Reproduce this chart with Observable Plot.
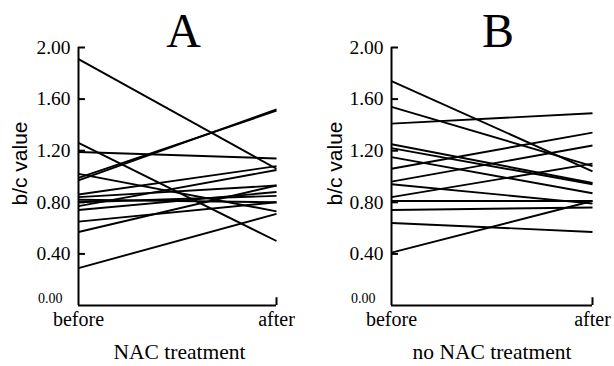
<!DOCTYPE html>
<html><head><meta charset="utf-8">
<script src="https://cdn.jsdelivr.net/npm/d3@7"></script>
<script src="https://cdn.jsdelivr.net/npm/@observablehq/plot@0.6"></script>
<style>
body{margin:0;background:#fff;}
#wrap{position:relative;width:614px;height:366px;overflow:hidden;}
#wrap svg{position:absolute;top:0;}
</style>
</head><body><div id="wrap"></div>
<script>
// Panel A: NAC treatment
const beforeA = [1.91, 1.26, 1.19, 1.02, 0.99, 0.97, 0.86, 0.84, 0.82, 0.80, 0.77, 0.74, 0.65, 0.57, 0.29];
const afterA  = [1.06, 0.50, 1.14, 0.73, 1.51, 1.52, 1.08, 0.93, 0.80, 0.85, 1.05, 0.88, 0.80, 0.93, 0.71];
// Panel B: no NAC treatment
const beforeB = [1.74, 1.54, 1.41, 1.25, 1.22, 1.15, 1.06, 0.96, 0.94, 0.84, 0.81, 0.74, 0.64, 0.41];
const afterB  = [1.04, 1.08, 1.49, 0.95, 0.94, 0.87, 1.34, 1.24, 0.79, 1.10, 0.81, 0.76, 0.57, 0.81];
const yTicks = [0.40, 0.80, 1.20, 1.60, 2.00];
const xTickLabels = ["before", "after"];
const panelTitles = ["A", "B"];
const xLabels = ["NAC treatment", "no NAC treatment"];
const yLabel = "b/c value";

const serif = "Liberation Serif";
const sans = "Liberation Sans";

function panel(before, after, title, xlab, opts) {
  const data = before.map((b, i) => ({before: b, after: after[i]}));
  return Plot.plot({
    width: 307, height: 366,
    marginLeft: opts.ml, marginRight: opts.mr, marginTop: 47, marginBottom: 61,
    x: {domain: [0, 1], axis: null},
    y: {domain: [0, 2], axis: null},
    style: {background: "white", color: "black"},
    marks: [
      Plot.link(data, {x1: () => 0, y1: "before", x2: () => 1, y2: "after", stroke: "black", strokeWidth: 1.9}),
      Plot.ruleX([0], {y1: 0, y2: 2, stroke: "black", strokeWidth: 2}),
      Plot.ruleY([0], {x1: 0, x2: 1, stroke: "black", strokeWidth: 2}),
      Plot.ruleX([1], {y1: 0, y2: 0.06, stroke: "black", strokeWidth: 2}),
      Plot.ruleY(yTicks, {x1: 0, x2: 0.035, stroke: "black", strokeWidth: 2}),
      Plot.axisY({ticks: yTicks, tickSize: 0, tickPadding: 8, tickFormat: d => d.toFixed(2), fontSize: 19.5, fontFamily: serif, fill: "black", label: null}),
      Plot.text(["0.00"], {x: 0, y: 0, textAnchor: "end", dx: -16, dy: -7, fontSize: 14, fontFamily: serif, fill: "black"}),
      Plot.axisX({ticks: [0, 1], tickSize: 0, tickPadding: 6, tickFormat: d => xTickLabels[d], fontSize: 20, fontFamily: serif, fill: "black", label: null}),
      Plot.text([yLabel], {frameAnchor: "left", textAnchor: "middle", rotate: -90, dx: opts.ylx, dy: -13, fontSize: 21, fontFamily: sans, fill: "black"}),
      Plot.text([title], {frameAnchor: "top", lineAnchor: "bottom", dy: -1, dx: opts.tdx, fontSize: 48, fontFamily: serif, fill: "black"}),
      Plot.text([xlab], {frameAnchor: "bottom", lineAnchor: "middle", dy: 47, dx: opts.xdx, fontSize: 21.5, fontFamily: serif, fill: "black"})
    ]
  });
}

const wrap = document.getElementById("wrap");
const a = panel(beforeA, afterA, panelTitles[0], xLabels[0], {ml: 78, mr: 31, ylx: -58, tdx: 6, xdx: 2});
a.style.left = "0px";
const b = panel(beforeB, afterB, panelTitles[1], xLabels[1], {ml: 84, mr: 22, ylx: -56, tdx: 6, xdx: 0});
b.style.left = "307px";
wrap.appendChild(a);
wrap.appendChild(b);
</script></body></html>
